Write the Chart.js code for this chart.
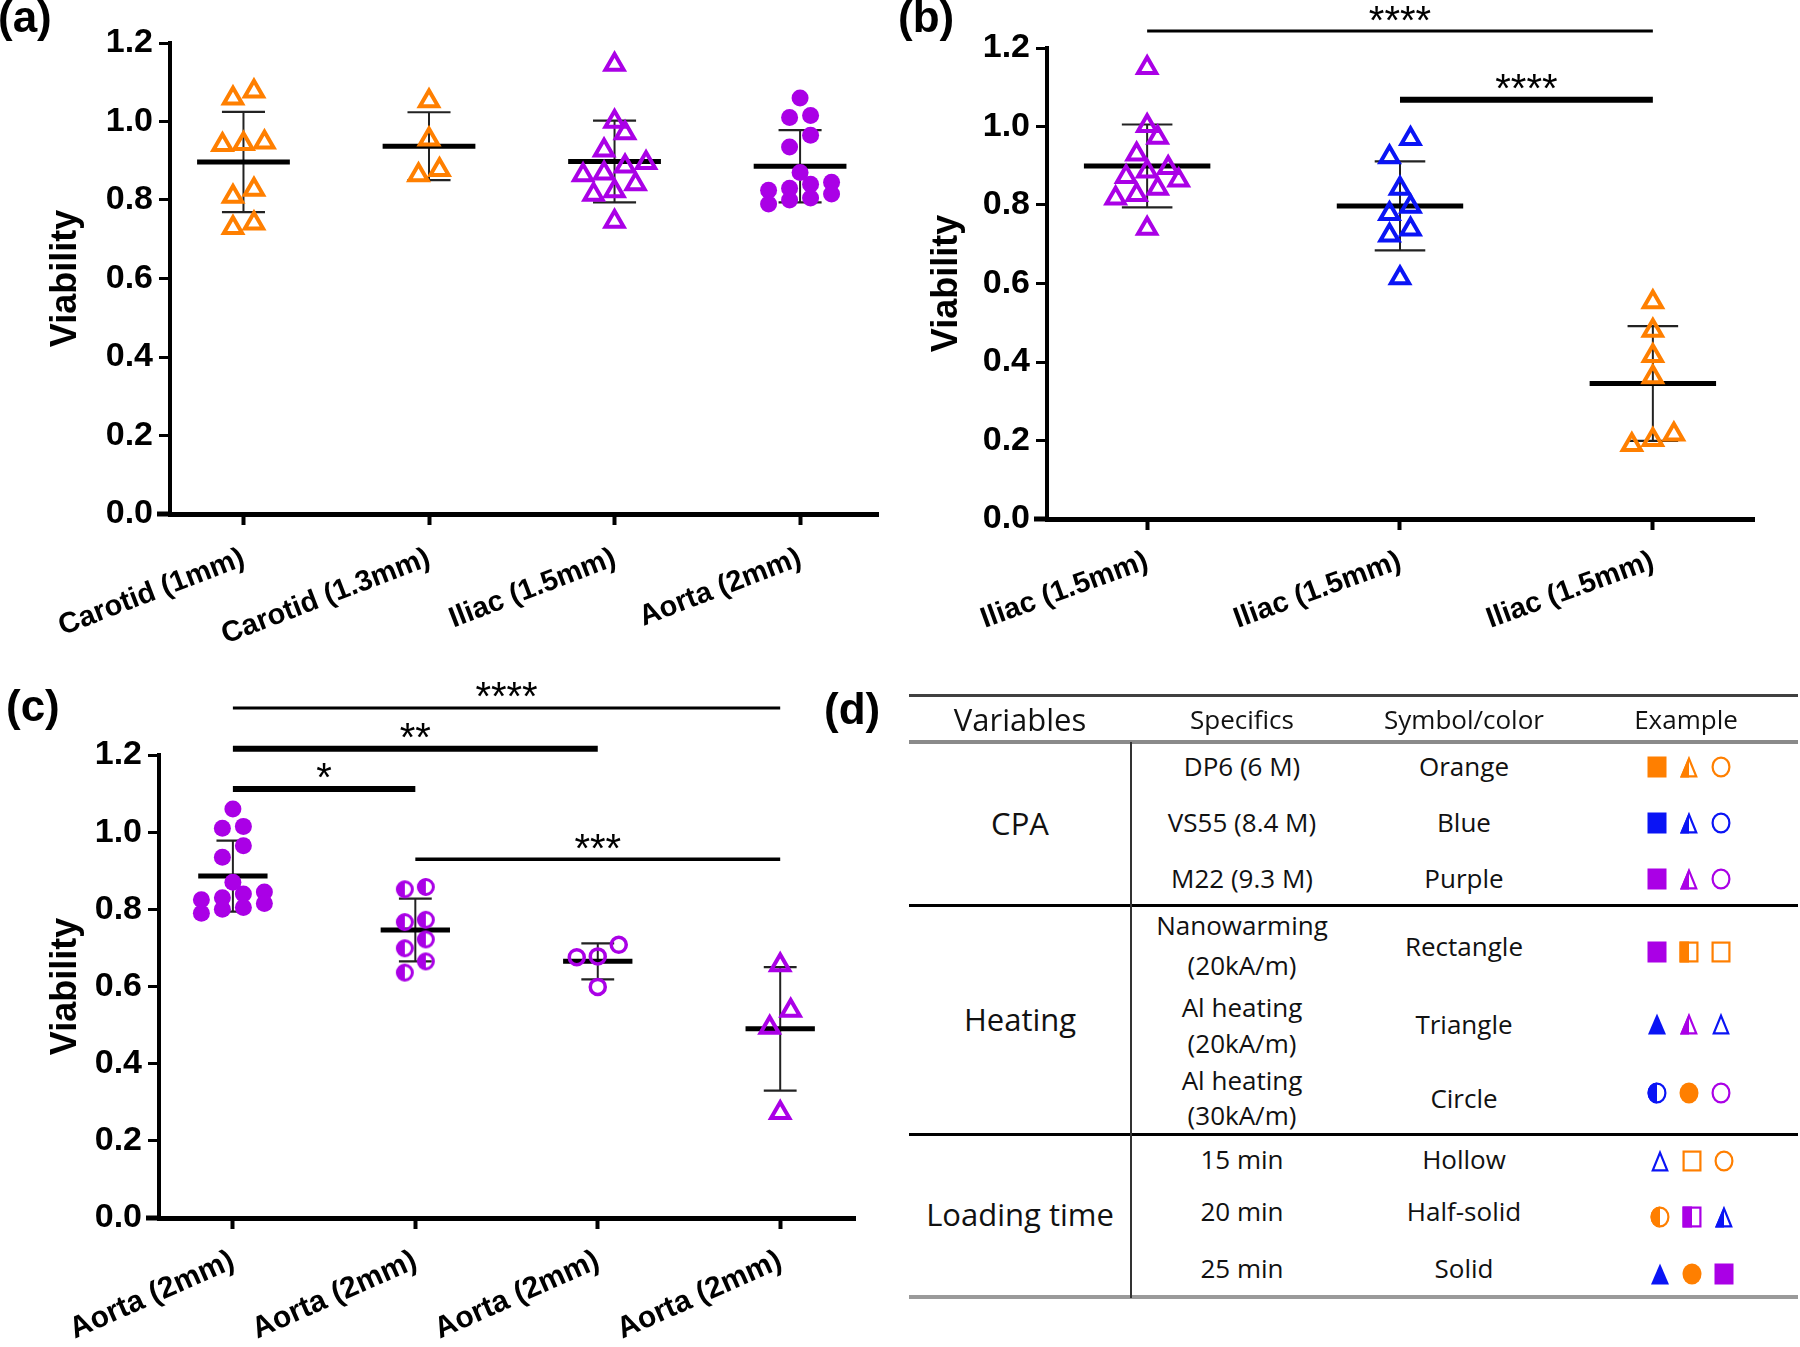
<!DOCTYPE html>
<html>
<head>
<meta charset="utf-8">
<script src="https://cdn.jsdelivr.net/npm/chart.js@4.4.1/dist/chart.umd.min.js"></script>
<style>
html,body{margin:0;padding:0;background:#fff;}
#wrap{position:relative;width:1800px;height:1347px;overflow:hidden;background:#fff;}
canvas{position:absolute;}
.pl{position:absolute;font-family:"Liberation Sans",Arial,sans-serif;font-weight:bold;font-size:44px;line-height:1;color:#000;}
.t{position:absolute;font-family:"Open Sans",sans-serif;color:#111;white-space:nowrap;transform:translate(-50%,-50%);line-height:1.2;}
.r{position:absolute;}
</style>
</head>
<body>
<div id="wrap">
  <canvas id="cA" width="900" height="660" style="left:0px;top:0px"></canvas>
  <canvas id="cB" width="900" height="660" style="left:900px;top:0px"></canvas>
  <canvas id="cC" width="900" height="687" style="left:0px;top:660px"></canvas>
  <div class="pl" style="left:-2px;top:-5px">(a)</div>
  <div class="pl" style="left:898px;top:-5px">(b)</div>
  <div class="pl" style="left:6px;top:684px">(c)</div>
  <div class="pl" style="left:824px;top:687px">(d)</div>
  <div id="table"></div>
</div>
<script>
// ---------------- DATA ----------------
const yTickValues = [0, 0.2, 0.4, 0.6, 0.8, 1.0, 1.2];

// Panel (a)
const catsA = ['Carotid (1mm)', 'Carotid (1.3mm)', 'Iliac (1.5mm)', 'Aorta (2mm)'];
const carotid1mm = [1.077, 1.059, 0.947, 0.941, 0.943, 0.827, 0.809, 0.729, 0.741];
const carotid13mm = [1.052, 0.955, 0.864, 0.877];
const iliac15mm = [1.145, 1.000, 0.971, 0.927, 0.895, 0.886, 0.864, 0.868, 0.841, 0.823, 0.814, 0.745];
const aorta2mm = [1.060, 1.015, 1.010, 0.965, 0.935, 0.870, 0.845, 0.840, 0.830, 0.825, 0.815, 0.805, 0.800, 0.790];

// Panel (b)
const catsB = ['Iliac (1.5mm)', 'Iliac (1.5mm)', 'Iliac (1.5mm)'];
const iliacM22 = [1.150, 1.002, 0.972, 0.929, 0.895, 0.886, 0.863, 0.872, 0.842, 0.826, 0.817, 0.740];
const iliacVS55 = [0.969, 0.922, 0.842, 0.796, 0.778, 0.738, 0.723, 0.614];
const iliacDP6 = [0.553, 0.480, 0.416, 0.362, 0.216, 0.202, 0.189];
const sigPairsB = [[0, 2], [1, 2]];
const sigLevelsB = [1.243, 1.068];
const sigLabelsB = ['****', '****'];

// Panel (c)
const catsC = ['Aorta (2mm)', 'Aorta (2mm)', 'Aorta (2mm)', 'Aorta (2mm)'];
const aortaSolid = [1.060, 1.015, 1.010, 0.965, 0.935, 0.870, 0.845, 0.840, 0.830, 0.825, 0.815, 0.805, 0.800, 0.790];
const aortaHalf = [0.858, 0.852, 0.767, 0.773, 0.722, 0.699, 0.665, 0.636];
const aortaHollow = [0.678, 0.676, 0.708, 0.599];
const aortaTriangle = [0.656, 0.538, 0.494, 0.273];
const sigPairsC = [[0, 3], [0, 2], [0, 1], [1, 3]];
const sigLevelsC = [1.322, 1.216, 1.112, 0.930];
const sigLabelsC = ['****', '**', '*', '***'];

// ---------------- STYLES ----------------
const ORANGE = '#FF7F00', PURPLE = '#AA00E6', BLUE = '#0A14F5';
const FONT = '"Liberation Sans", Arial, sans-serif';
Chart.defaults.font.family = FONT;

function halfCircleImg(color, r, lw) {
  const s = Math.ceil(2 * r + lw + 2);
  const cv = document.createElement('canvas');
  cv.width = s; cv.height = s;
  const g = cv.getContext('2d'); const c = s / 2;
  g.fillStyle = color;
  g.beginPath(); g.moveTo(c, c); g.arc(c, c, r, Math.PI / 2, Math.PI * 1.5); g.closePath(); g.fill();
  g.strokeStyle = color; g.lineWidth = lw;
  g.beginPath(); g.arc(c, c, r - lw / 2 + 0.5, 0, Math.PI * 2); g.stroke();
  return cv;
}
const marker = {
  tri: c => ({pointStyle: 'triangle', pointRadius: 10.5, pointBorderWidth: 4, pointBorderColor: c, pointBackgroundColor: 'rgba(255,255,255,0)'}),
  dot: c => ({pointStyle: 'circle', pointRadius: 8.5, pointBorderWidth: 0, pointBorderColor: c, pointBackgroundColor: c}),
  half: c => ({pointStyle: halfCircleImg(c, 8.5, 3), pointRadius: 8.5, pointBorderWidth: 0, pointBorderColor: c, pointBackgroundColor: c}),
  ring: c => ({pointStyle: 'circle', pointRadius: 7.5, pointBorderWidth: 3.5, pointBorderColor: c, pointBackgroundColor: 'rgba(255,255,255,0)'})
};

// ---------------- HELPERS ----------------
const mean = a => a.reduce((s, v) => s + v, 0) / a.length;
const sd = a => { const m = mean(a); return Math.sqrt(a.reduce((s, v) => s + (v - m) * (v - m), 0) / (a.length - 1)); };

// Prism-like scatter spreading: bin close values into rows, centre each row
function swarm(values, unit) {
  const idx = values.map((v, i) => i).sort((a, b) => values[a] - values[b]);
  const off = new Array(values.length).fill(0);
  let row = [];
  const flush = () => { row.forEach((k, j) => { off[k] = (j - (row.length - 1) / 2) * unit; }); row = []; };
  idx.forEach(k => {
    if (row.length && (values[k] - values[row[0]] >= 0.048 || row.length >= 4)) flush();
    row.push(k);
  });
  flush();
  return off;
}
function lineDs(pts, w, c) {
  return {type: 'line', data: pts.map(p => ({x: p[0], y: p[1]})), borderColor: c, borderWidth: w,
    pointRadius: 0, fill: false, tension: 0, order: 1, clip: false, borderCapStyle: 'butt'};
}

const starPlugin = {
  id: 'stars',
  afterDatasetsDraw(chart, args, opts) {
    const {ctx} = chart; const xs = chart.scales.x, ys = chart.scales.y;
    ctx.save();
    ctx.font = '40px ' + FONT; ctx.fillStyle = '#000'; ctx.textAlign = 'center'; ctx.textBaseline = 'alphabetic';
    (opts.items || []).forEach(it => {
      const x = (xs.getPixelForValue(it.from) + xs.getPixelForValue(it.to)) / 2;
      const yc = ys.getPixelForValue(it.level) - opts.gap;
      const m = ctx.measureText(it.label);
      ctx.fillText(it.label, x, yc + (m.actualBoundingBoxAscent - m.actualBoundingBoxDescent) / 2);
    });
    ctx.restore();
  }
};
const axisExt = {
  id: 'axisExt',
  afterDraw(chart, args, opts) {
    const {ctx, chartArea} = chart;
    ctx.save(); ctx.strokeStyle = '#000'; ctx.lineWidth = 5;
    ctx.beginPath(); ctx.moveTo(chartArea.left - opts.ext, chartArea.bottom); ctx.lineTo(chartArea.left + 2, chartArea.bottom); ctx.stroke();
    ctx.restore();
  }
};

function buildChart(id, cats, groups, pairs, levels, labels, sigWidths, L) {
  const datasets = [];
  const unit = 21 / L.pxPerCat;
  groups.forEach((g, i) => {
    const off = swarm(g.values, unit);
    datasets.push(Object.assign({type: 'scatter', data: g.values.map((v, j) => ({x: i + off[j], y: v})), order: 0, clip: false}, g.style));
    const m = mean(g.values), s = sd(g.values);
    datasets.push(lineDs([[i - L.meanHalf, m], [i + L.meanHalf, m]], 5, '#000'));
    datasets.push(lineDs([[i, m - s], [i, m + s]], 2, '#222'));
    datasets.push(lineDs([[i - L.capHalf, m + s], [i + L.capHalf, m + s]], 2.2, '#222'));
    datasets.push(lineDs([[i - L.capHalf, m - s], [i + L.capHalf, m - s]], 2.2, '#222'));
  });
  const items = [];
  pairs.forEach((p, k) => {
    datasets.push(lineDs([[p[0], levels[k]], [p[1], levels[k]]], sigWidths[k], '#000'));
    items.push({from: p[0], to: p[1], level: levels[k], label: labels[k]});
  });
  const tickFont = {family: FONT, size: 34, weight: 'bold'};
  return new Chart(document.getElementById(id), {
    type: 'scatter',
    data: {datasets},
    plugins: [starPlugin, axisExt],
    options: {
      responsive: false, animation: false, events: [],
      layout: {padding: {left: L.padLeft, top: L.padTop, right: L.padRight, bottom: 0}},
      plugins: {legend: {display: false}, tooltip: {enabled: false}, stars: {items, gap: 18}, axisExt: {ext: 13}},
      scales: {
        x: {
          type: 'linear', min: L.xmin, max: L.xmax, bounds: 'data',
          afterBuildTicks: s => { s.ticks = cats.map((c, i) => ({value: i})); },
          ticks: {callback: (v) => cats[Math.round(v)], autoSkip: false, minRotation: L.rot, maxRotation: L.rot,
            font: {family: FONT, size: L.labelSize, weight: 'bold'}, color: '#000', padding: L.labelPad},
          grid: {drawOnChartArea: false, drawTicks: true, tickLength: 11, tickWidth: 4, tickColor: '#000', color: '#000'},
          border: {display: true, width: 5, color: '#000'},
          afterFit: s => { s.height = L.xHeight; }
        },
        y: {
          type: 'linear', min: 0, max: 1.2, bounds: 'data',
          afterBuildTicks: s => { s.ticks = yTickValues.map(v => ({value: v})); },
          ticks: {callback: v => Number(v).toFixed(1), font: tickFont, color: '#000', padding: 6},
          grid: {drawOnChartArea: false, drawTicks: true, tickLength: 11, tickWidth: 3, tickColor: '#000', color: '#000'},
          border: {display: true, width: 4, color: '#000'},
          title: {display: true, text: 'Viability', color: '#000', font: {family: FONT, size: 36, weight: 'bold'}, padding: {top: 4, bottom: 4}},
          afterFit: s => { s.width = L.yWidth; }
        }
      }
    }
  });
}

buildChart('cA', catsA, [
  {values: carotid1mm, style: marker.tri(ORANGE)},
  {values: carotid13mm, style: marker.tri(ORANGE)},
  {values: iliac15mm, style: marker.tri(PURPLE)},
  {values: aorta2mm, style: marker.dot(PURPLE)}
], [], [], [], [], {padLeft: 40, yWidth: 130, padTop: 43, padRight: 22, xHeight: 146, xmin: -0.396, xmax: 3.42,
  pxPerCat: 185.6, meanHalf: 0.25, capHalf: 0.116, rot: 21, labelPad: 16, labelSize: 29});

buildChart('cB', catsB, [
  {values: iliacM22, style: marker.tri(PURPLE)},
  {values: iliacVS55, style: marker.tri(BLUE)},
  {values: iliacDP6, style: marker.tri(ORANGE)}
], sigPairsB, sigLevelsB, sigLabelsB, [3, 6], {padLeft: 21, yWidth: 126, padTop: 48, padRight: 46, xHeight: 141, xmin: -0.396, xmax: 2.40,
  pxPerCat: 252.6, meanHalf: 0.25, capHalf: 0.1, rot: 20, labelPad: 14, labelSize: 29});

buildChart('cC', catsC, [
  {values: aortaSolid, style: marker.dot(PURPLE)},
  {values: aortaHalf, style: marker.half(PURPLE)},
  {values: aortaHollow, style: marker.ring(PURPLE)},
  {values: aortaTriangle, style: marker.tri(PURPLE)}
], sigPairsC, sigLevelsC, sigLabelsC, [3, 6, 6, 3.5], {padLeft: 40, yWidth: 119, padTop: 95, padRight: 45, xHeight: 129, xmin: -0.405, xmax: 3.41,
  pxPerCat: 182.5, meanHalf: 0.19, capHalf: 0.09, rot: 24, labelPad: 14, labelSize: 30});

// ---------------- TABLE (d) ----------------
const tableHeader = ['Variables', 'Specifics', 'Symbol/color', 'Example'];
const tableGroups = ['CPA', 'Heating', 'Loading time'];
const tableSpecifics = [['DP6 (6 M)'], ['VS55 (8.4 M)'], ['M22 (9.3 M)'], ['Nanowarming', '(20kA/m)'], ['Al heating', '(20kA/m)'], ['Al heating', '(30kA/m)'], ['15 min'], ['20 min'], ['25 min']];
const tableSymbolColor = ['Orange', 'Blue', 'Purple', 'Rectangle', 'Triangle', 'Circle', 'Hollow', 'Half-solid', 'Solid'];
const tableExamples = [
  [['sq', 'solid', 'O'], ['tri', 'half', 'O'], ['circ', 'hollow', 'O']],
  [['sq', 'solid', 'B'], ['tri', 'half', 'B'], ['circ', 'hollow', 'B']],
  [['sq', 'solid', 'P'], ['tri', 'half', 'P'], ['circ', 'hollow', 'P']],
  [['sq', 'solid', 'P'], ['sq', 'half', 'O'], ['sq', 'hollow', 'O']],
  [['tri', 'solid', 'B'], ['tri', 'half', 'P'], ['tri', 'hollow', 'B']],
  [['circ', 'half', 'B'], ['circ', 'solid', 'O'], ['circ', 'hollow', 'P']],
  [['tri', 'hollow', 'B'], ['sq', 'hollow', 'O'], ['circ', 'hollow', 'O']],
  [['circ', 'half', 'O'], ['sq', 'half', 'P'], ['tri', 'half', 'B']],
  [['tri', 'solid', 'B'], ['circ', 'solid', 'O'], ['sq', 'solid', 'P']]
];
(function () {
  const COL = {O: ORANGE, B: BLUE, P: PURPLE};
  const colX = [1020, 1242, 1464, 1686];
  const headerY = 720;
  const groupY = [824, 1020, 1215];
  const specY = [[767], [823], [879], [926, 966], [1008, 1044], [1081, 1116], [1160], [1212], [1269]];
  const symTextY = [767, 823, 879, 947, 1025, 1099, 1160, 1212, 1269];
  const exY = [767, 823, 879, 952, 1024, 1093, 1161, 1217, 1274];
  let html = '';
  const T = (txt, x, y, size) => { html += `<div class="t" style="left:${x}px;top:${y}px;font-size:${size}px">${txt}</div>`; };
  const R = (x, y, w, h, c) => { html += `<div class="r" style="left:${x}px;top:${y}px;width:${w}px;height:${h}px;background:${c}"></div>`; };
  function sym(shape, mode, col, cx, cy) {
    const sw = 2.2; let inner = '';
    if (shape === 'sq') {
      const x0 = 2.5, y0 = 1.5, w = 19, h = 21;
      if (mode === 'solid') inner = `<rect x="${x0}" y="${y0}" width="${w}" height="${h}" fill="${col}"/>`;
      else {
        if (mode === 'half') inner += `<rect x="${x0}" y="${y0}" width="${w / 2}" height="${h}" fill="${col}"/>`;
        inner += `<rect x="${x0 + sw / 2}" y="${y0 + sw / 2}" width="${w - sw}" height="${h - sw}" fill="none" stroke="${col}" stroke-width="${sw}"/>`;
      }
    } else if (shape === 'tri') {
      if (mode === 'solid') inner = `<polygon points="12,1.5 3,22.5 21,22.5" fill="${col}"/>`;
      else {
        if (mode === 'half') inner += `<polygon points="12,1.5 3,22.5 12,22.5" fill="${col}"/>`;
        inner += `<polygon points="12,${1.5 + sw} ${3 + sw * 0.8},${22.5 - sw / 2} ${21 - sw * 0.8},${22.5 - sw / 2}" fill="none" stroke="${col}" stroke-width="${sw}"/>`;
      }
    } else {
      if (mode === 'solid') inner = `<ellipse cx="12" cy="12" rx="9.5" ry="10.5" fill="${col}"/>`;
      else {
        if (mode === 'half') inner += `<path d="M12,1.5 A9.5,10.5 0 0 0 12,22.5 Z" fill="${col}"/>`;
        inner += `<ellipse cx="12" cy="12" rx="${9.5 - sw / 2}" ry="${10.5 - sw / 2}" fill="none" stroke="${col}" stroke-width="${sw}"/>`;
      }
    }
    html += `<svg style="position:absolute;left:${cx - 12}px;top:${cy - 12}px" width="24" height="24" viewBox="0 0 24 24">${inner}</svg>`;
  }
  // rules
  R(909, 694, 889, 3, '#404040');
  R(909, 740, 889, 4, '#8a8a8a');
  R(909, 904, 889, 3, '#000');
  R(909, 1133, 889, 3, '#000');
  R(909, 1295, 889, 4, '#9a9a9a');
  R(1130, 742, 2, 556, '#333');
  // header
  T(tableHeader[0], colX[0], headerY, 31);
  for (let i = 1; i < 4; i++) T(tableHeader[i], colX[i], headerY, 26);
  tableGroups.forEach((g, i) => T(g, colX[0], groupY[i], 31));
  tableSpecifics.forEach((lines, i) => lines.forEach((ln, j) => T(ln, colX[1], specY[i][j], 26)));
  tableSymbolColor.forEach((s, i) => T(s, colX[2], symTextY[i], 26));
  tableExamples.forEach((row, i) => {
    const base = i >= 6 ? 1660 : 1657;
    row.forEach((e, j) => sym(e[0], e[1], COL[e[2]], base + j * 32, exY[i]));
  });
  document.getElementById('table').innerHTML = html;
})();
</script>
</body>
</html>
